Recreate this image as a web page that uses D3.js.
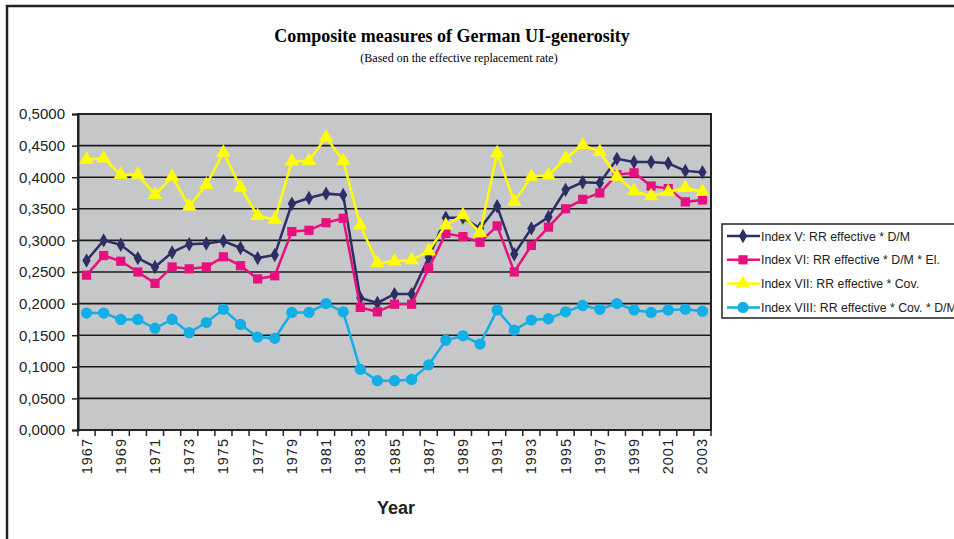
<!DOCTYPE html>
<html>
<head>
<meta charset="utf-8">
<script src="https://cdn.jsdelivr.net/npm/d3@7"></script>
<style>
  body { margin: 0; background: #fff; }
  svg { display: block; }
</style>
</head>
<body>
<svg id="chart"></svg>
<script>
const years = d3.range(1967, 2004);

const indexV = [0.268, 0.300, 0.293, 0.272, 0.258, 0.281, 0.294, 0.295, 0.299, 0.288, 0.272, 0.277,
  0.358, 0.367, 0.374, 0.372, 0.209, 0.201, 0.215, 0.215, 0.273, 0.336, 0.336, 0.319,
  0.354, 0.278, 0.319, 0.337, 0.380, 0.392, 0.391, 0.429, 0.424, 0.424, 0.422, 0.410, 0.408];
const indexVI = [0.245, 0.276, 0.267, 0.250, 0.232, 0.258, 0.255, 0.258, 0.274, 0.260, 0.239, 0.244,
  0.314, 0.316, 0.328, 0.335, 0.194, 0.187, 0.199, 0.199, 0.256, 0.311, 0.306, 0.297,
  0.323, 0.250, 0.292, 0.321, 0.350, 0.365, 0.375, 0.404, 0.407, 0.386, 0.382, 0.361, 0.364];
const indexVII = [0.428, 0.430, 0.404, 0.404, 0.372, 0.401, 0.354, 0.388, 0.439, 0.384, 0.339, 0.333,
  0.425, 0.426, 0.463, 0.426, 0.324, 0.264, 0.267, 0.269, 0.283, 0.324, 0.340, 0.312,
  0.438, 0.361, 0.401, 0.403, 0.430, 0.451, 0.440, 0.401, 0.378, 0.370, 0.377, 0.383, 0.377];
const indexVIII = [0.185, 0.185, 0.175, 0.175, 0.161, 0.175, 0.154, 0.170, 0.191, 0.167, 0.147, 0.145,
  0.186, 0.186, 0.200, 0.187, 0.096, 0.078, 0.078, 0.080, 0.103, 0.142, 0.149, 0.136,
  0.190, 0.158, 0.174, 0.176, 0.187, 0.197, 0.191, 0.200, 0.190, 0.186, 0.190, 0.191, 0.188];

const seriesNames = [
  'Index V: RR effective * D/M',
  'Index VI: RR effective * D/M * El.',
  'Index VII: RR effective * Cov.',
  'Index VIII: RR effective * Cov. * D/M'
];
const seriesColors = ['#2e2e66', '#e6117f', '#ffff00', '#12aee6'];
const seriesShapes = [d3.symbolDiamond, d3.symbolSquare, d3.symbolTriangle, d3.symbolCircle];
const seriesSizes = [60, 85, 90, 100];
const yTicks = d3.range(0, 0.5001, 0.05);

const W = 954, H = 539;
const plot = { left: 78, right: 711, top: 114, bottom: 430 };

const svg = d3.select('#chart').attr('width', W).attr('height', H);

// outer frame
svg.append('path')
  .attr('d', `M7,${H} V6 H${W}`)
  .attr('fill', 'none')
  .attr('stroke', '#222')
  .attr('stroke-width', 2.5);

svg.append('text')
  .attr('x', 452).attr('y', 42)
  .attr('text-anchor', 'middle')
  .style('font-family', '"Liberation Serif", "Times New Roman", serif')
  .style('font-weight', 'bold')
  .style('font-size', '18px')
  .text('Composite measures of German UI-generosity');

svg.append('text')
  .attr('x', 459).attr('y', 62)
  .attr('text-anchor', 'middle')
  .style('font-family', '"Liberation Serif", "Times New Roman", serif')
  .style('font-size', '12px')
  .text('(Based on the effective replacement rate)');

const x = d3.scaleBand().domain(years).range([plot.left, plot.right]);
const y = d3.scaleLinear().domain([0, 0.5]).range([plot.bottom, plot.top]);

svg.append('rect')
  .attr('x', plot.left).attr('y', plot.top)
  .attr('width', plot.right - plot.left).attr('height', plot.bottom - plot.top)
  .attr('fill', '#c6c7c9');

// gridlines
svg.append('g').selectAll('line')
  .data(yTicks.slice(1))
  .join('line')
  .attr('x1', plot.left).attr('x2', plot.right)
  .attr('y1', d => y(d)).attr('y2', d => y(d))
  .attr('stroke', '#1a1a1a')
  .attr('stroke-width', 1.6);

svg.append('rect')
  .attr('x', plot.left).attr('y', plot.top)
  .attr('width', plot.right - plot.left).attr('height', plot.bottom - plot.top)
  .attr('fill', 'none')
  .attr('stroke', '#222')
  .attr('stroke-width', 2);

// y axis
const yAxis = svg.append('g')
  .attr('transform', `translate(${plot.left},0)`)
  .call(d3.axisLeft(y).tickValues(yTicks).tickSize(6).tickPadding(7)
    .tickFormat(d => d3.format('.4f')(d).replace('.', ',')));
yAxis.select('.domain').attr('stroke', '#222').attr('stroke-width', 2);
yAxis.selectAll('.tick line').attr('stroke', '#222').attr('stroke-width', 1.5);
yAxis.selectAll('text')
  .style('font-family', '"Liberation Sans", Arial, sans-serif')
  .style('font-size', '15px')
  .attr('fill', '#222');

// x axis: ticks at category boundaries, labels on odd years
const xAxis = svg.append('g').attr('transform', `translate(0,${plot.bottom})`);
xAxis.append('line')
  .attr('x1', plot.left).attr('x2', plot.right)
  .attr('stroke', '#222').attr('stroke-width', 2);
xAxis.selectAll('line.tk')
  .data(years.concat([2004]))
  .join('line')
  .attr('class', 'tk')
  .attr('x1', d => d === 2004 ? plot.right : x(d))
  .attr('x2', d => d === 2004 ? plot.right : x(d))
  .attr('y1', 0).attr('y2', 6)
  .attr('stroke', '#222').attr('stroke-width', 1.5);
xAxis.selectAll('text')
  .data(years.filter(d => d % 2 === 1))
  .join('text')
  .attr('transform', d => `translate(${x(d) + x.bandwidth() / 2 + 5},8) rotate(-90)`)
  .attr('text-anchor', 'end')
  .style('font-family', '"Liberation Sans", Arial, sans-serif')
  .style('font-size', '14.5px')
  .style('letter-spacing', '1px')
  .attr('fill', '#222')
  .text(d => d);

svg.append('text')
  .attr('x', 396).attr('y', 514)
  .attr('text-anchor', 'middle')
  .style('font-family', '"Liberation Sans", Arial, sans-serif')
  .style('font-weight', 'bold')
  .style('font-size', '18px')
  .attr('fill', '#222')
  .text('Year');

// series
const dataReady = [indexV, indexVI, indexVII, indexVIII].map((vals, i) => ({
  name: seriesNames[i],
  color: seriesColors[i],
  shape: seriesShapes[i],
  size: seriesSizes[i],
  values: vals.map((v, j) => ({ year: years[j], value: v }))
}));

const line = d3.line()
  .x(d => x(d.year) + x.bandwidth() / 2)
  .y(d => y(d.value));

const seriesG = svg.append('g').selectAll('g')
  .data(dataReady)
  .join('g');

seriesG.append('path')
  .attr('d', d => line(d.values))
  .attr('fill', 'none')
  .attr('stroke', d => d.color)
  .attr('stroke-width', 2.5);

seriesG.each(function (s) {
  d3.select(this).selectAll('path.pt')
    .data(s.values)
    .join('path')
    .attr('class', 'pt')
    .attr('transform', d => `translate(${x(d.year) + x.bandwidth() / 2},${y(d.value)})`)
    .attr('d', d3.symbol().type(s.shape).size(s.size))
    .attr('fill', s.color);
});

// legend
const legend = svg.append('g');
legend.append('rect')
  .attr('x', 722).attr('y', 224)
  .attr('width', 250).attr('height', 94)
  .attr('fill', '#fff')
  .attr('stroke', '#222')
  .attr('stroke-width', 1.5);

const items = legend.selectAll('g.item')
  .data(dataReady)
  .join('g')
  .attr('class', 'item')
  .attr('transform', (d, i) => `translate(0,${236 + i * 23.8})`);
items.append('line')
  .attr('x1', 727).attr('x2', 760)
  .attr('stroke', d => d.color)
  .attr('stroke-width', 2.5);
items.append('path')
  .attr('transform', 'translate(743,0)')
  .attr('d', d => d3.symbol().type(d.shape).size(d.size)())
  .attr('fill', d => d.color);
items.append('text')
  .attr('x', 761).attr('y', 4.5)
  .style('font-family', '"Liberation Sans", Arial, sans-serif')
  .style('font-size', '12.3px')
  .attr('fill', '#222')
  .text(d => d.name);
</script>
</body>
</html>
